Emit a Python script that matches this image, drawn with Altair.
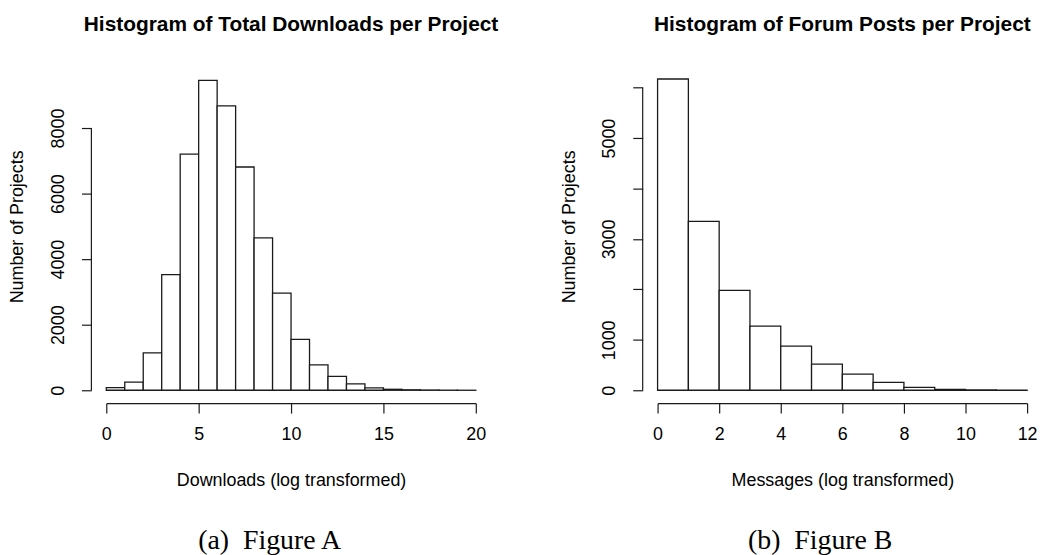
import altair as alt
import pandas as pd

# ---- data ----
dl_bin_start = list(range(0, 20))
dl_bin_end = list(range(1, 21))
dl_counts = [80, 250, 1140, 3530, 7205, 9455, 8678, 6811, 4652, 2966,
             1554, 777, 424, 192, 70, 30, 15, 8, 3, 1]

msg_bin_start = list(range(0, 12))
msg_bin_end = list(range(1, 13))
msg_counts = [6172, 3350, 1980, 1270, 875, 520, 322, 158, 59, 15, 5, 2]

dl_xticks = [0, 5, 10, 15, 20]
dl_yticks = [0, 2000, 4000, 6000, 8000]
msg_xticks = [0, 2, 4, 6, 8, 10, 12]
msg_yticks = [0, 1000, 2000, 3000, 4000, 5000, 6000]

FONT = "Liberation Sans"
SERIF = "Liberation Serif"
INK = "#1a1a1a"


def panel(start, end, counts, xdom, xticks, ydom, yticks, ylabel_expr,
          title, xtitle, caption, cap_x):
    df = pd.DataFrame({"start": start, "end": end, "count": counts})
    one = pd.DataFrame({"k": [0]})
    xs = alt.Scale(domain=xdom, nice=False, zero=False)
    ys = alt.Scale(domain=ydom, nice=False)
    xaxis = alt.Axis(values=xticks, title=xtitle, offset=13, grid=False,
                     format="d",
                     domainColor=INK, domainWidth=1.2, tickColor=INK,
                     tickWidth=1.2, tickSize=10, labelFont=FONT,
                     labelFontSize=18, labelColor="black", labelPadding=13,
                     titleFont=FONT, titleFontSize=18, titleFontWeight="normal",
                     titleColor="black", titlePadding=28, labelFlush=False)
    yaxis = alt.Axis(values=yticks, title="Number of Projects", offset=15,
                     grid=False, domain=False, tickColor=INK, tickWidth=1.2,
                     format="d",
                     tickSize=10, labelFont=FONT, labelFontSize=18,
                     labelColor="black", labelAngle=270, labelAlign="center",
                     labelBaseline="bottom", labelPadding=14,
                     labelExpr=ylabel_expr,
                     titleFont=FONT, titleFontSize=18, titleFontWeight="normal",
                     titleColor="black", titlePadding=23)
    bars = alt.Chart(df).mark_bar(fill="white", stroke=INK, strokeWidth=1.3).encode(
        x=alt.X("start:Q", scale=xs, axis=xaxis),
        x2="end:Q",
        y=alt.Y("count:Q", scale=ys, axis=yaxis),
        y2=alt.datum(0),
    )
    yline = alt.Chart(one).mark_rule(color=INK, strokeWidth=1.2).encode(
        x=alt.value(-15),
        y=alt.datum(yticks[0]),
        y2=alt.datum(yticks[-1]),
    )
    cap = alt.Chart(one).mark_text(font=SERIF, fontSize=28, fontWeight="normal",
                                   color="black",
                                   baseline="middle", align="center").encode(
        x=alt.datum(cap_x),
        y=alt.value(482),
        text=alt.value(caption),
    )
    return alt.layer(bars, yline, cap).properties(
        width=372, height=330,
        title=alt.Title(title, font=FONT, fontSize=21, fontWeight="bold",
                        color="black", anchor="middle", frame="group",
                        offset=28),
    )


left = panel(dl_bin_start, dl_bin_end, dl_counts, [0, 20], dl_xticks,
             [0, 10000], dl_yticks, "datum.label",
             "Histogram of Total Downloads per Project",
             "Downloads (log transformed)", "(a)\u2002Figure A", 8.84)
right = panel(msg_bin_start, msg_bin_end, msg_counts, [0, 12], msg_xticks,
              [0, 6500], msg_yticks,
              "(datum.value == 0 || datum.value % 2000 == 1000) ? datum.label : ''",
              "Histogram of Forum Posts per Project",
              "Messages (log transformed)", "(b)\u2002Figure B", 5.28)

chart = alt.hconcat(left, right, spacing=183, bounds="flush").properties(
    padding={"left": 9, "top": 12, "right": 5, "bottom": 5},
    background="white",
).configure_view(stroke=None)

chart.save("out.html", embed_options={"renderer": "svg", "actions": False})
